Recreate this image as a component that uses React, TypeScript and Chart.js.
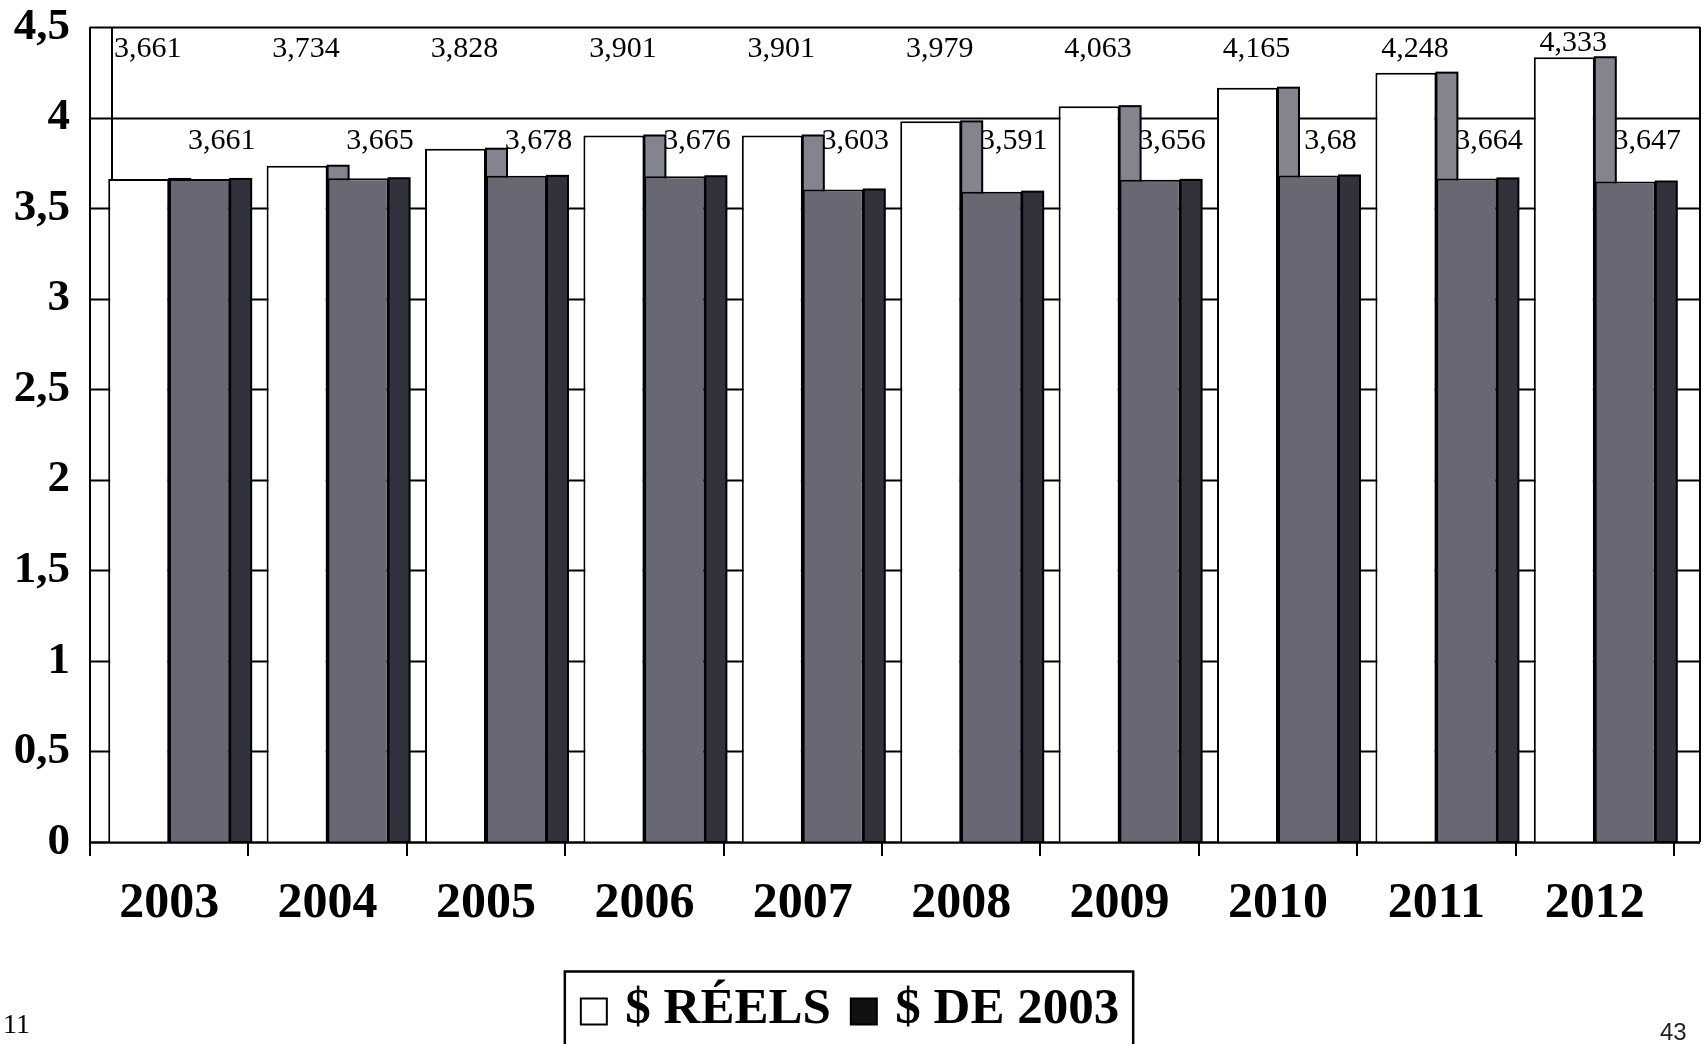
import React, { useEffect, useRef } from "react";
import { Chart, registerables } from "chart.js";

Chart.register(...registerables);

// ---- data ----
const YEARS = ["2003", "2004", "2005", "2006", "2007", "2008", "2009", "2010", "2011", "2012"];
const REELS = [3.661, 3.734, 3.828, 3.901, 3.901, 3.979, 4.063, 4.165, 4.248, 4.333];
const DOLLARS_2003 = [3.661, 3.665, 3.678, 3.676, 3.603, 3.591, 3.656, 3.68, 3.664, 3.647];
const SERIES_NAMES = ["$ RÉELS", "$ DE 2003"];
const Y_MIN = 0;
const Y_MAX = 4.5;
const Y_STEP = 0.5;

// ---- style ----
const W = 1706;
const H = 1060;
const PLOT_LEFT = 90;
const PLOT_RIGHT = 1674;
const WALL_RIGHT = 1700;
const WALL_INNER_OFFSET = 22;
const DEPTH = 21;
const LABEL_ROW_1 = 4.38;
const LABEL_ROW_2 = 3.87;
const SERIF = "'Liberation Serif', 'Times New Roman', serif";
const BAR_FILL = ["#ffffff", "#686874"];
const SIDE_FILL = ["#84848e", "#32323c"];
const LEGEND_FILL = ["#ffffff", "#111111"];
const LEGEND_SQ = 26;
const LEGEND_SHIFT = 13;

const fmt = (v: number) => String(v).replace(".", ",");

const wallPlugin = {
  id: "wall3d",
  afterLayout(chart: any) {
    const lg = chart.legend;
    if (lg) {
      lg.left += LEGEND_SHIFT;
      lg.right += LEGEND_SHIFT;
    }
  },
  beforeDatasetsDraw(chart: any) {
    const { ctx, chartArea: ca } = chart;
    const y = chart.scales.y;
    ctx.save();
    ctx.strokeStyle = "#000";
    ctx.lineWidth = 2;
    const top = y.getPixelForValue(Y_MAX);
    const bottom = y.getPixelForValue(Y_MIN);
    y.ticks.forEach((t: any) => {
      const py = Math.round(y.getPixelForValue(t.value)) + 0.5;
      ctx.beginPath();
      ctx.moveTo(ca.left, py);
      ctx.lineTo(WALL_RIGHT, py);
      ctx.stroke();
    });
    [ca.left, ca.left + WALL_INNER_OFFSET, WALL_RIGHT].forEach((x: number) => {
      ctx.beginPath();
      ctx.moveTo(x, top);
      ctx.lineTo(x, bottom);
      ctx.stroke();
    });
    // side faces of the columns
    chart.data.datasets.forEach((_ds: any, di: number) => {
      const meta = chart.getDatasetMeta(di);
      meta.data.forEach((el: any) => {
        const x0 = el.x + el.width / 2;
        ctx.fillStyle = SIDE_FILL[di];
        ctx.fillRect(x0, el.y, DEPTH, el.base - el.y);
        ctx.lineWidth = 2;
        ctx.strokeRect(x0, el.y, DEPTH, el.base - el.y);
      });
    });
    ctx.restore();
  },
  afterDatasetsDraw(chart: any) {
    const { ctx } = chart;
    const y = chart.scales.y;
    ctx.save();
    ctx.fillStyle = "#000";
    ctx.font = `30px ${SERIF}`;
    ctx.textAlign = "center";
    ctx.textBaseline = "middle";
    const m0 = chart.getDatasetMeta(0);
    m0.data.forEach((el: any, i: number) => {
      const py = Math.min(y.getPixelForValue(LABEL_ROW_1), el.y - 14);
      ctx.fillText(fmt(REELS[i]), el.x + 9, py);
    });
    const m1 = chart.getDatasetMeta(1);
    m1.data.forEach((el: any, i: number) => {
      ctx.fillText(fmt(DOLLARS_2003[i]), el.x + 22, y.getPixelForValue(LABEL_ROW_2));
    });
    // bottom axis line
    ctx.strokeStyle = "#000";
    ctx.lineWidth = 2;
    const pb = Math.round(y.getPixelForValue(Y_MIN)) + 0.5;
    ctx.beginPath();
    ctx.moveTo(chart.chartArea.left, pb);
    ctx.lineTo(WALL_RIGHT, pb);
    ctx.stroke();
    ctx.restore();
  },
  afterDraw(chart: any) {
    const lg = chart.legend;
    if (!lg || !lg.legendHitBoxes || !lg.legendHitBoxes.length) return;
    const hb = lg.legendHitBoxes;
    const first = hb[0];
    const last = hb[hb.length - 1];
    const { ctx } = chart;
    ctx.save();
    // legend squares
    hb.forEach((b: any, i: number) => {
      const cy = b.top + b.height / 2 + 2;
      ctx.fillStyle = LEGEND_FILL[i];
      ctx.fillRect(b.left, cy - LEGEND_SQ / 2, LEGEND_SQ, LEGEND_SQ);
      ctx.strokeStyle = "#000";
      ctx.lineWidth = 2;
      ctx.strokeRect(b.left, cy - LEGEND_SQ / 2, LEGEND_SQ, LEGEND_SQ);
    });
    // legend frame
    ctx.strokeStyle = "#000";
    ctx.lineWidth = 2.5;
    const left = first.left - 16;
    const right = last.left + last.width + 14;
    const top = first.top + first.height / 2 - 38;
    ctx.strokeRect(left, top, right - left, H - top + 20);
    ctx.restore();
  },
};

export default function App() {
  const ref = useRef<HTMLCanvasElement | null>(null);

  useEffect(() => {
    if (!ref.current) return;
    const chart = new Chart(ref.current, {
      type: "bar",
      data: {
        labels: YEARS,
        datasets: [
          {
            label: SERIES_NAMES[0],
            data: REELS,
            backgroundColor: BAR_FILL[0],
            borderColor: "#000",
            borderWidth: 2,
            categoryPercentage: 0.77,
            barPercentage: 1,
          },
          {
            label: SERIES_NAMES[1],
            data: DOLLARS_2003,
            backgroundColor: BAR_FILL[1],
            borderColor: "#000",
            borderWidth: 2,
            categoryPercentage: 0.77,
            barPercentage: 1,
          },
        ],
      },
      options: {
        responsive: false,
        animation: false,
        devicePixelRatio: 1,
        layout: { padding: { top: 27, right: W - PLOT_RIGHT, left: 0, bottom: 15 } },
        scales: {
          x: {
            grid: {
              display: true,
              drawOnChartArea: false,
              drawTicks: true,
              tickLength: 14,
              color: "#000",
              lineWidth: 2,
              offset: true,
            },
            border: { display: false },
            ticks: {
              font: { family: SERIF, weight: "bold", size: 50 },
              color: "#000",
              padding: 18,
              maxRotation: 0,
            },
            afterFit: (s: any) => {
              s.height = 122;
              s.paddingLeft = 0;
              s.paddingRight = 0;
            },
          },
          y: {
            min: Y_MIN,
            max: Y_MAX,
            ticks: {
              stepSize: Y_STEP,
              callback: (v: any) => fmt(Number(v)),
              font: { family: SERIF, weight: "bold", size: 45 },
              color: "#000",
              padding: 12,
            },
            grid: { display: false },
            border: { display: false },
            afterFit: (s: any) => {
              s.width = PLOT_LEFT;
              s.paddingTop = 0;
              s.paddingBottom = 0;
            },
          },
        },
        plugins: {
          tooltip: { enabled: false },
          legend: {
            position: "bottom",
            labels: {
              font: { family: SERIF, weight: "bold", size: 51 },
              color: "#000",
              boxWidth: 19,
              boxHeight: 26,
              padding: 20,
              generateLabels: () =>
                SERIES_NAMES.map((name, i) => ({
                  text: name,
                  fillStyle: "rgba(0,0,0,0)",
                  strokeStyle: "rgba(0,0,0,0)",
                  lineWidth: 0,
                  datasetIndex: i,
                  hidden: false,
                })),
            },
          },
        },
      },
      plugins: [wallPlugin],
    } as any);
    return () => chart.destroy();
  }, []);

  return (
    <div
      style={{
        position: "fixed",
        left: 0,
        top: 0,
        width: W,
        height: 1044,
        overflow: "hidden",
        background: "#fff",
      }}
    >
      <canvas ref={ref} width={W} height={H} style={{ display: "block", width: W, height: H }} />
      <div style={{ position: "absolute", left: 3, top: 1008, fontFamily: SERIF, fontSize: 28, color: "#000" }}>11</div>
      <div style={{ position: "absolute", left: 1660, top: 1018, fontFamily: "'Liberation Sans', Arial, sans-serif", fontSize: 24, color: "#222" }}>43</div>
    </div>
  );
}
